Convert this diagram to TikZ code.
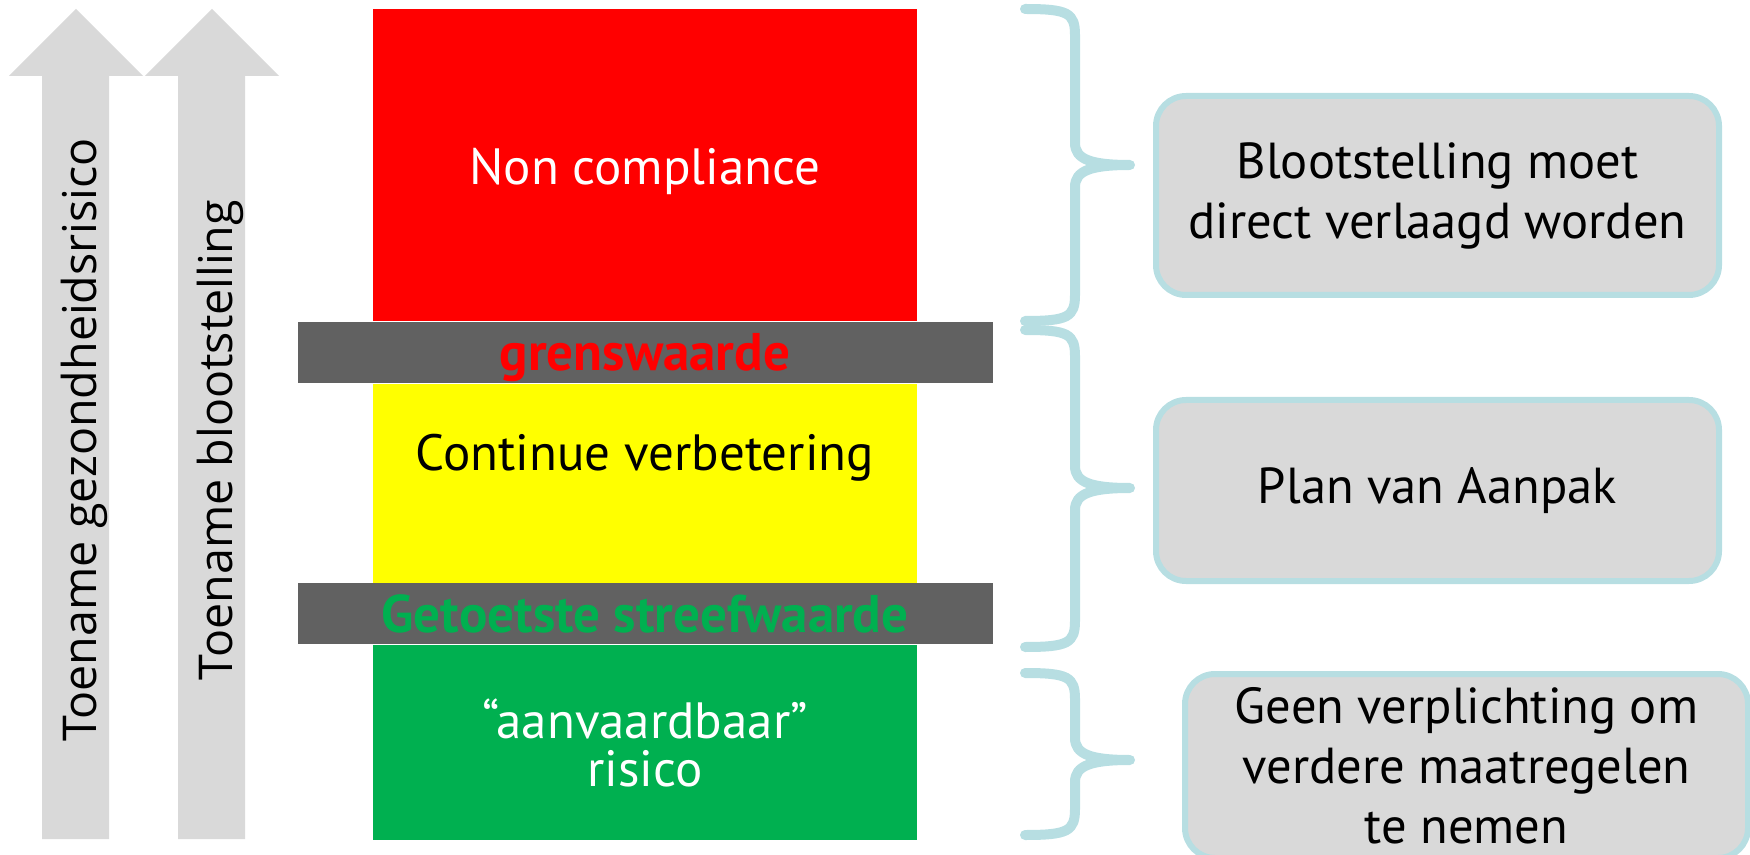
\documentclass[tikz,border=0pt]{standalone}
\usepackage{fontspec}
\setmainfont{PT Sans}
\newfontfamily\arrowfont{Open Sans}
\usetikzlibrary{positioning}
\definecolor{nonred}{RGB}{255,0,0}
\definecolor{yellowband}{RGB}{255,255,0}
\definecolor{greenband}{RGB}{0,176,80}
\definecolor{bargray}{RGB}{97,97,97}
\definecolor{boxgray}{RGB}{217,217,217}
\definecolor{bracecol}{RGB}{183,222,226}
\begin{document}
\begin{tikzpicture}[x=0.5pt, y=-0.5pt,
  band/.style={rectangle, inner sep=0pt, minimum width=272pt, align=center, font=\fontsize{25.5}{24}\selectfont},
  bar/.style={rectangle, fill=bargray, inner sep=0pt, minimum width=347.5pt, minimum height=30.5pt},
  barlabel/.style={inner sep=0pt, font=\bfseries\fontsize{26.5}{26}\selectfont},
  advice/.style={rectangle, rounded corners=15pt, draw=bracecol, line width=3pt, fill=boxgray, minimum width=281.5pt, align=center, font=\fontsize{25.3}{30}\selectfont},
  curly/.style={draw=bracecol, line width=5pt, line cap=round, line join=round},
  uplabel/.style={rotate=90, inner sep=0pt, font=\arrowfont\fontsize{23.3}{26}\selectfont}]
\useasboundingbox (0,0) rectangle (1750,855);
\foreach \dx/\txt in {0/Toename gezondheidsrisico, 136/Toename blootstelling}{
  \fill[boxgray] (42+\dx,839) -- (42+\dx,76) -- (9+\dx,76) -- (76+\dx,9) -- (143+\dx,76) -- (109+\dx,76) -- (109+\dx,839) -- cycle;
  \node[uplabel] (rise\dx) at (84+\dx,440) {\txt};
}
\node[band, fill=nonred, minimum height=156pt] (noncomp) at (645,165) {};
\node[band, text=white] (noncomplbl) at (645,171) {Non compliance};
\node[bar, below=0pt of noncomp] (grens) {};
\node[barlabel, text=nonred] (grenslbl) at ([yshift=-2.8pt]grens.center) {grenswaarde};
\node[band, fill=yellowband, minimum height=99.5pt, below=0pt of grens] (contin) {};
\node[band] (continlbl) at (645,458) {Continue verbetering};
\node[bar, below=0pt of contin] (streef) {};
\node[barlabel, text=greenband] (streeflbl) at (streef.center) {Getoetste streefwaarde};
\node[band, fill=greenband, minimum height=97.5pt, below=0pt of streef, text=white] (accept) {“aanvaardbaar”\\risico};
\node[advice, minimum height=99.5pt] (exposure) at (1437.5,195.5) {Blootstelling moet\\direct verlaagd worden};
\node[advice, minimum height=90.5pt] (plan) at (1437.5,490.5) {Plan van Aanpak};
\node[advice, minimum height=92pt] (nodeal) at (1466.5,766) {Geen verplichting om\\verdere maatregelen\\te nemen};
\foreach \top/\tip/\bot in {9/165/321, 330/488/647, 673/760/835}{
  \draw[curly] (1025,\top) .. controls (1068,\top) and (1075,\top+4) .. (1075,\top+26)
    -- (1075,\tip-22) .. controls (1075,\tip-6) and (1090,\tip) .. (1130,\tip)
    .. controls (1090,\tip) and (1075,\tip+6) .. (1075,\tip+22)
    -- (1075,\bot-26) .. controls (1075,\bot-4) and (1068,\bot) .. (1025,\bot);
}
\end{tikzpicture}
\end{document}
